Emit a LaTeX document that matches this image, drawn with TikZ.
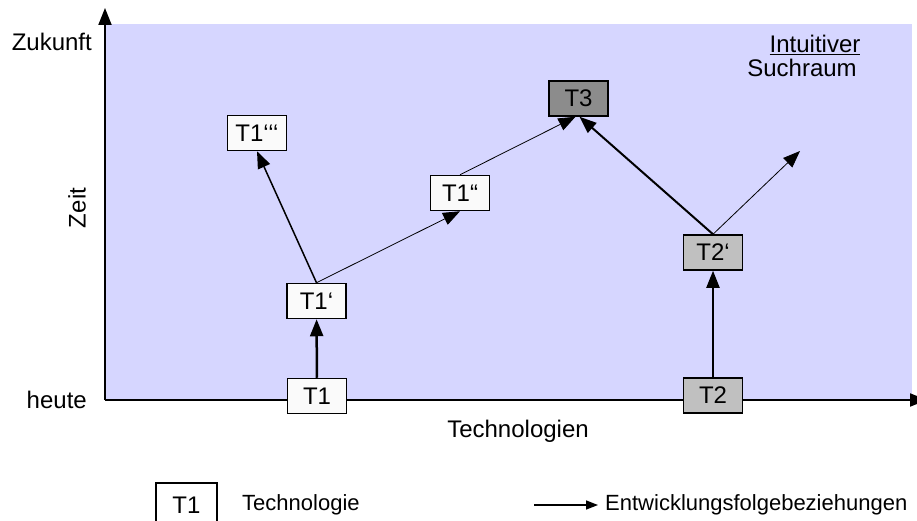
\documentclass[tikz,border=0pt]{standalone}
\usepackage{fontspec}
\setmainfont{Liberation Sans}
\usetikzlibrary{
    arrows.meta,
    positioning,
    calc
}
\definecolor{raum}{RGB}{214,214,255}
\definecolor{techhell}{RGB}{250,250,250}
\definecolor{techmittel}{RGB}{192,192,192}
\definecolor{techdunkel}{RGB}{140,140,140}
\tikzset{
    tech/.style={draw, line width=1.5pt, fill=techhell, minimum width=59pt,
        minimum height=35pt, inner sep=0pt},
    achse/.style={-{Triangle[length=17pt, width=13pt]}, line width=2pt},
    folge/.style={-{Triangle[length=17pt, width=13pt]}, line width=2pt},
    duenn/.style={folge, line width=0.8pt},
    beschrift/.style={inner sep=0pt},
    legende/.style={inner sep=0pt, font=\fontsize{22}{26}\selectfont}
}

\begin{document}
\begin{tikzpicture}[x=1pt, y=-1pt, font=\fontsize{24}{28}\selectfont]
                        \useasboundingbox (0, 0) rectangle (917, 521);
                        % Suchraum und Achsen
                        \fill[raum] (105, 24) rectangle (912, 400);
                        \coordinate (ursprung) at (105, 400);
                        \coordinate (zeitende) at (105, 8);
                        \coordinate (techende) at (927, 400);
                        \draw[achse] (ursprung) -- (zeitende);
                        \draw[achse] (ursprung) -- (techende);
                        \node[beschrift, anchor=east] (zukunft) at (92, 42) {Zukunft};
                        \node[beschrift, anchor=east] (heute) at (87, 400) {heute};
                        \node[beschrift, rotate=90] (zeit) at (77, 208) {Zeit};
                        \node[beschrift] (technologien) at (518, 431) {Technologien};
                        \node[beschrift] (intuitiv) at (815, 45) {\underline{Intuitiver}};
                        \node[beschrift] (suchraum) at (802, 68) {Suchraum};
                        % Technologien
                        \node[tech] (T1) at (317, 396) {T1};
                        \node[tech] (T1a) at (316.5, 301) {T1‘};
                        \node[tech] (T1b) at (460, 193) {T1“};
                        \node[tech] (T1c) at (257, 133) {T1‘‘‘};
                        \node[tech, fill=techdunkel] (T3) at (578.5, 98.5) {T3};
                        \node[tech, fill=techmittel] (T2a) at (713, 252.5) {T2‘};
                        \node[tech, fill=techmittel] (T2) at (713, 395.5) {T2};
                        \coordinate (ausblick) at (800, 151);
                        % Entwicklungsfolgen
                        \draw[folge, line width=2.5pt] (T1) -- (T1a);
                        \draw[folge, line width=1.5pt] (T1a.north) -- (T1c.south);
                        \draw[duenn] (T1a.north) -- (T1b.south);
                        \draw[duenn] (T1b.north) -- ([xshift=-3pt]T3.south);
                        \draw[folge] (T2a.north) -- ([xshift=1pt]T3.south);
                        \draw[duenn] (T2a.north) -- (ausblick);
                        \draw[folge] (T2) -- (T2a);
                        % Legende
                        \node[tech, fill=white, minimum width=61pt, minimum height=44pt] (legT1) at (186.5, 505) {T1};
                        \node[legende, anchor=west] (legtech) at (242, 505) {Technologie};
                        \coordinate (legpfeil) at (534, 505);
                        \node[legende, anchor=west] (legfolge) at (605, 505) {Entwicklungsfolgebeziehungen};
                        \draw[-{Triangle[length=12pt, width=9pt]}, line width=1.5pt] (legpfeil) -- ([xshift=-7pt]legfolge.west);
                    \end{tikzpicture}
\end{document}
